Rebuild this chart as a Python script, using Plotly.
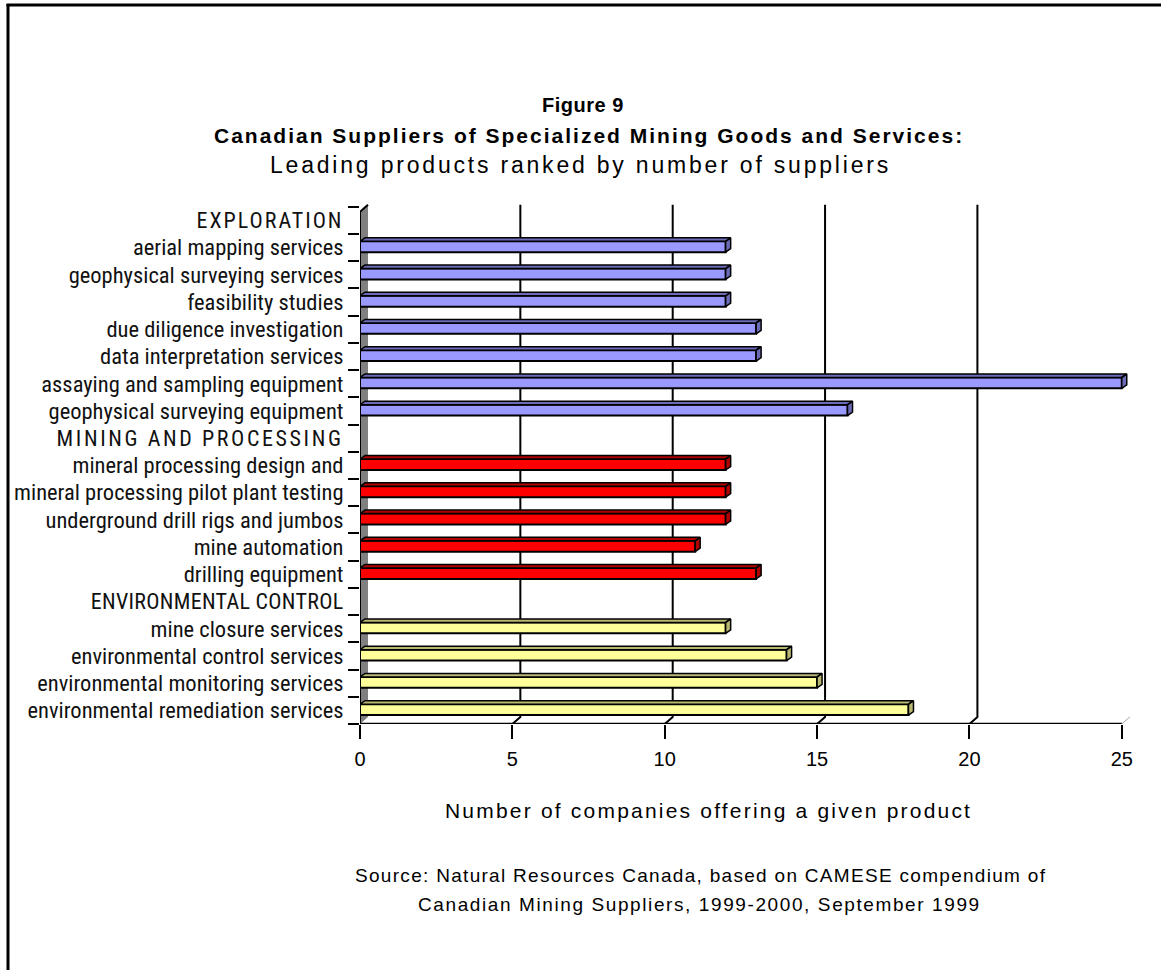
import plotly.graph_objects as go

# ---- data -------------------------------------------------------------
exploration_labels = [
    "aerial mapping services",
    "geophysical surveying services",
    "feasibility studies",
    "due diligence investigation",
    "data interpretation services",
    "assaying and sampling equipment",
    "geophysical surveying equipment",
]
exploration_values = [12, 12, 12, 13, 13, 25, 16]

mining_labels = [
    "mineral processing design and",
    "mineral processing pilot plant testing",
    "underground drill rigs and jumbos",
    "mine automation",
    "drilling equipment",
]
mining_values = [12, 12, 12, 11, 13]

environment_labels = [
    "mine closure services",
    "environmental control services",
    "environmental monitoring services",
    "environmental remediation services",
]
environment_values = [12, 14, 15, 18]

section_titles = ["EXPLORATION", "MINING AND PROCESSING", "ENVIRONMENTAL CONTROL"]
x_ticks = [0, 5, 10, 15, 20, 25]

# ---- page geometry ----------------------------------------------------
W, H = 1161, 970
PX_X = 762 / 25                        # pixels per company
X_RANGE = [0, 25.5]
ML = 360
MR = W - ML - round(PX_X * X_RANGE[1])
MT, MB = 204, 246
PW, PH = W - ML - MR, H - MT - MB
Y_RANGE = [18.5, -0.6]
PX_Y = PH / (Y_RANGE[0] - Y_RANGE[1])


def px(xp):
    return (xp - ML) / PW


def py(yp):
    return (H - MB - yp) / PH


LABEL_FONT = "Liberation Sans Narrow, Arial Narrow, Roboto Condensed, Liberation Sans, Arial"
TEXT_FONT = "Liberation Sans, Arial, Helvetica, sans-serif"

groups = [
    (section_titles[0], exploration_labels, exploration_values, "#9999FF", "#6B6BB8", 2.0),
    (section_titles[1], mining_labels, mining_values, "#FF0000", "#B00000", 2.6),
    (section_titles[2], environment_labels, environment_values, "#FFFF99", "#B8B870", 0.3),
]

# row layout: a section title row followed by its items
tick_vals, tick_text = [], []
row = 0
group_rows = []
for title, labels, values, _, _, sp in groups:
    tick_vals.append(row)
    tick_text.append('<span style="font-size:22px;letter-spacing:%spx">%s</span>' % (sp, title))
    row += 1
    rows = []
    for lab in labels:
        tick_vals.append(row)
        tick_text.append(lab)
        rows.append(row)
        row += 1
    group_rows.append(rows)

BAR_OFF, BAR_W = -0.23, 0.40          # front face extent relative to row centre
DX = 5 / PX_X                          # bar depth (x)
DY = 3.5 / PX_Y                        # bar depth (y)

fig = go.Figure()

for (title, labels, values, face, side, _), rows in zip(groups, group_rows):
    fig.add_trace(go.Bar(
        x=values, y=rows, orientation="h",
        width=BAR_W, offset=BAR_OFF,
        marker=dict(color=face, line=dict(color="black", width=2)),
        name=title, showlegend=False, hoverinfo="x+y",
    ))
    # top and end faces of each bar
    xs, ys = [], []
    for v, r in zip(values, rows):
        top = r + BAR_OFF
        bot = r + BAR_OFF + BAR_W
        xs += [0, v, v + DX, DX, 0, None]
        ys += [top, top, top - DY, top - DY, top, None]
        xs += [v, v + DX, v + DX, v, v, None]
        ys += [top, top - DY, bot - DY, bot, top, None]
    fig.add_trace(go.Scatter(
        x=xs, y=ys, mode="lines", fill="toself", fillcolor=side,
        line=dict(color="black", width=1.5), showlegend=False, hoverinfo="skip",
    ))

# ---- back wall, side wall, floor edge and gridlines --------------------
WX = 8 / PX_X
WY = 7 / PX_Y
Y_BOT = 18.5
Y_TOP_BACK = -0.5 - 2 / PX_Y
Y_TOP_FRONT = Y_TOP_BACK + WY

shapes = []
shapes.append(dict(
    type="path", xref="x", yref="y", layer="below",
    path=f"M 0,{Y_BOT} L 0,{Y_TOP_FRONT} L {WX},{Y_TOP_BACK} L {WX},{Y_BOT - WY} Z",
    fillcolor="#808080", line=dict(width=0),
))
shapes.append(dict(
    type="path", xref="x", yref="y", layer="above",
    path=f"M 0,{Y_BOT} L 0,{Y_TOP_FRONT} L {WX},{Y_TOP_BACK}",
    line=dict(color="black", width=2),
))
for v in x_ticks[1:-1]:
    shapes.append(dict(
        type="path", xref="x", yref="y", layer="below",
        path=f"M {v + WX},{Y_TOP_BACK} L {v + WX},{Y_BOT - WY} L {v},{Y_BOT}",
        line=dict(color="black", width=2),
    ))
shapes.append(dict(
    type="path", xref="x", yref="y", layer="below",
    path=f"M {x_ticks[-1] + WX},{Y_BOT - WY} L {x_ticks[-1]},{Y_BOT}",
    line=dict(color="#A0A0A0", width=1),
))
# front floor edge (category axis line)
shapes.append(dict(
    type="line", xref="x", yref="y", layer="above",
    x0=x_ticks[0], x1=x_ticks[-1], y0=Y_BOT, y1=Y_BOT,
    line=dict(color="black", width=2.5),
))

# page frame
shapes.append(dict(type="line", xref="paper", yref="paper",
                   x0=px(8), x1=px(8), y0=py(4), y1=py(H + 5),
                   line=dict(color="black", width=3)))
shapes.append(dict(type="line", xref="paper", yref="paper",
                   x0=px(6.5), x1=px(W + 5), y0=py(5), y1=py(5),
                   line=dict(color="black", width=3)))

# ---- text ---------------------------------------------------------------
ann = []


def add_text(text, xc, yc, size, bold=False, spacing=None):
    t = f"<b>{text}</b>" if bold else text
    if spacing:
        t = f'<span style="letter-spacing:{spacing}px">{t}</span>'
    ann.append(dict(text=t, x=px(xc), y=py(yc), xref="paper", yref="paper",
                    xanchor="center", yanchor="middle", showarrow=False,
                    font=dict(family=TEXT_FONT, size=size, color="black")))


add_text("Figure 9", 583, 105, 20, bold=True, spacing=0.5)
add_text("Canadian Suppliers of Specialized Mining Goods and Services:", 589, 135, 21, bold=True, spacing=2)
add_text("Leading products ranked by number of suppliers", 580, 165, 23, spacing=2.8)
add_text("Number of companies offering a given product", 708, 810, 21, spacing=2.2)
add_text("Source: Natural Resources Canada, based on CAMESE compendium of", 700, 875, 19, spacing=1.3)
add_text("Canadian Mining Suppliers, 1999-2000, September 1999", 699, 904, 19, spacing=1.6)

fig.update_layout(
    width=W, height=H,
    margin=dict(l=ML, r=MR, t=MT, b=MB, pad=0, autoexpand=False),
    paper_bgcolor="white", plot_bgcolor="white",
    barmode="overlay",
    shapes=shapes, annotations=ann,
    xaxis=dict(
        range=X_RANGE, tickvals=x_ticks, showgrid=False, zeroline=False,
        showline=False, automargin=False,
        ticks="outside", ticklen=14, tickwidth=2, tickcolor="black",
        ticklabelstandoff=3,
        tickfont=dict(family=TEXT_FONT, size=20, color="black"),
    ),
    yaxis=dict(
        range=Y_RANGE, tickvals=tick_vals, ticktext=tick_text,
        showgrid=False, zeroline=False, showline=False, automargin=False,
        ticks="outside", ticklen=11, tickcolor="rgba(0,0,0,0)",
        tickfont=dict(family=LABEL_FONT, size=22.5, color="#111111"),
    ),
    yaxis2=dict(
        range=Y_RANGE, overlaying="y", anchor="x", side="left",
        tickvals=[i - 0.5 for i in range(20)], showticklabels=False,
        showgrid=False, zeroline=False, showline=False, automargin=False,
        ticks="outside", ticklen=11, tickwidth=2, tickcolor="black",
    ),
)
# attach an invisible trace to the boundary-tick axis so it is drawn
fig.add_trace(go.Scatter(x=[None], y=[None], yaxis="y2", showlegend=False, hoverinfo="skip"))

fig.write_html("out.html")
